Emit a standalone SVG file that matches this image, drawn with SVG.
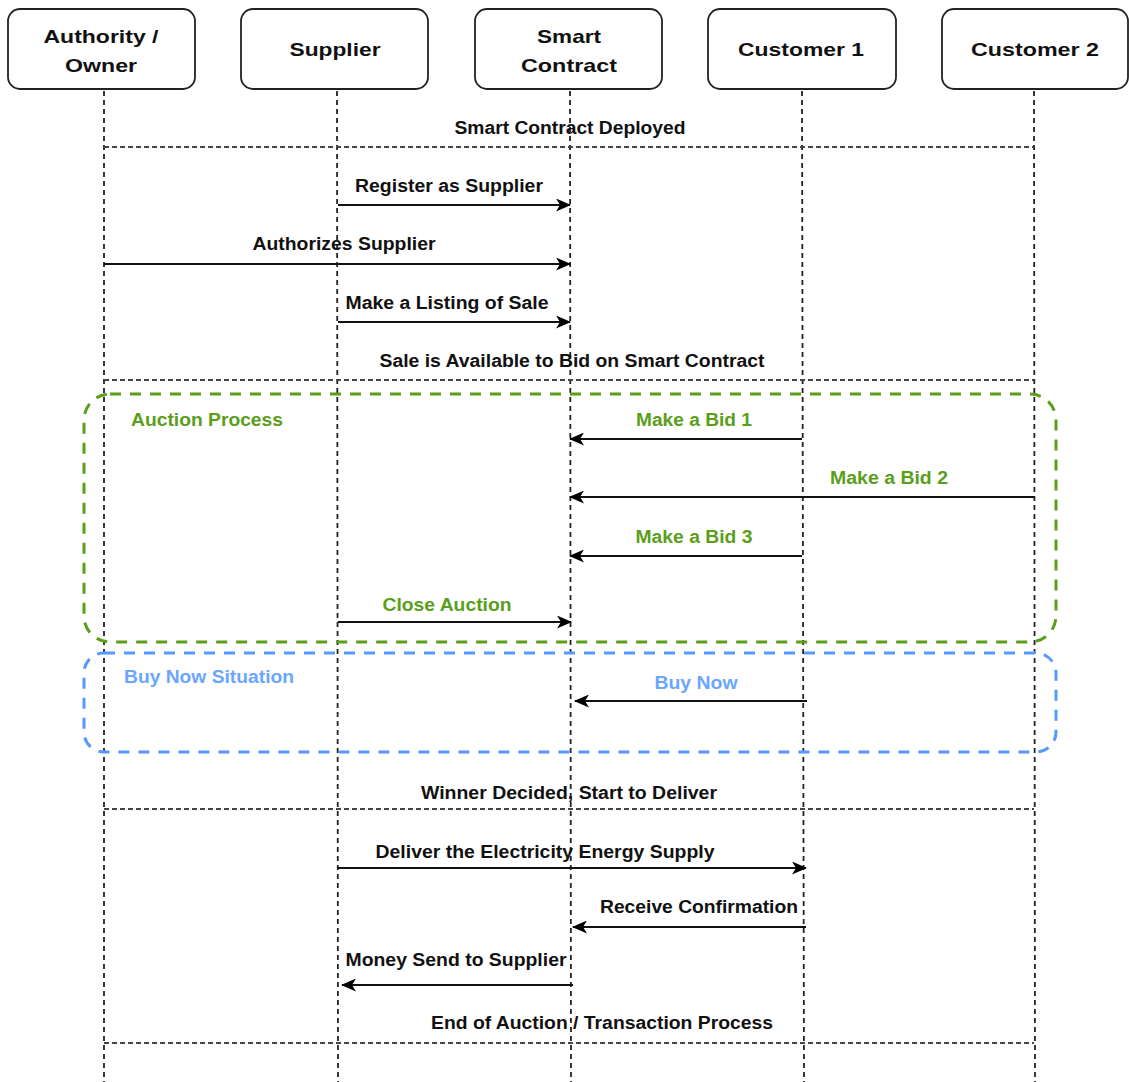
<svg xmlns="http://www.w3.org/2000/svg" width="1129" height="1082" viewBox="0 0 1129 1082">
<defs>
<marker id="arr" viewBox="0 0 15 13" refX="14" refY="6.5" markerWidth="15" markerHeight="13" markerUnits="userSpaceOnUse" orient="auto">
<path d="M0,0 L15,6.5 L0,13 L4,6.5 z" fill="#000"/>
</marker>
<style>
.box{fill:#fff;stroke:#222;stroke-width:1.8}
.nt{font-family:"Liberation Sans",Arial,sans-serif;font-weight:bold;font-size:19px;fill:#111;text-anchor:middle}
.life{stroke:#222;stroke-width:1.8;stroke-dasharray:5,4;fill:none}
.sep{stroke:#444;stroke-width:1.8;stroke-dasharray:5,3;fill:none}
.msg{stroke:#111;stroke-width:2;fill:none;marker-end:url(#arr)}
.t{font-family:"Liberation Sans",Arial,sans-serif;font-weight:bold;font-size:18px;fill:#111;text-anchor:middle}
.g{fill:#5a9e1a}
.b{fill:#6aa6ff}
.start{text-anchor:start}
.grp{fill:none;stroke-width:3;stroke-dasharray:11,9}
</style>
</defs>

<g id="lifelines">
<line class="life" x1="104" y1="91" x2="104" y2="1082"/>
<line class="life" x1="337" y1="91" x2="338" y2="1082"/>
<line class="life" x1="570" y1="91" x2="571" y2="1082"/>
<line class="life" x1="802" y1="91" x2="804" y2="1082"/>
<line class="life" x1="1034" y1="91" x2="1035" y2="1082"/>
</g>

<g id="node-authority">
<rect class="box" x="8" y="9" width="187" height="80" rx="12"/>
<text class="nt" x="101" y="43" textLength="115" lengthAdjust="spacingAndGlyphs">Authority /</text>
<text class="nt" x="101" y="72" textLength="72" lengthAdjust="spacingAndGlyphs">Owner</text>
</g>
<g id="node-supplier">
<rect class="box" x="241" y="9" width="187" height="80" rx="12"/>
<text class="nt" x="335" y="56" textLength="91" lengthAdjust="spacingAndGlyphs">Supplier</text>
</g>
<g id="node-smart-contract">
<rect class="box" x="475" y="9" width="187" height="80" rx="12"/>
<text class="nt" x="569" y="43" textLength="64" lengthAdjust="spacingAndGlyphs">Smart</text>
<text class="nt" x="569" y="72" textLength="96" lengthAdjust="spacingAndGlyphs">Contract</text>
</g>
<g id="node-customer1">
<rect class="box" x="708" y="9" width="188" height="80" rx="12"/>
<text class="nt" x="801" y="56" textLength="126" lengthAdjust="spacingAndGlyphs">Customer 1</text>
</g>
<g id="node-customer2">
<rect class="box" x="942" y="9" width="186" height="80" rx="12"/>
<text class="nt" x="1035" y="56" textLength="128" lengthAdjust="spacingAndGlyphs">Customer 2</text>
</g>

<g id="group-auction">
<rect class="grp" x="84" y="394" width="972" height="248" rx="26" stroke="#5a9e1a"/>
<text class="t g start" x="131" y="426" textLength="152" lengthAdjust="spacingAndGlyphs">Auction Process</text>
</g>
<g id="group-buynow">
<rect class="grp" x="84" y="653" width="972" height="99" rx="20" stroke="#5599ff"/>
<text class="t b start" x="124" y="683" textLength="170" lengthAdjust="spacingAndGlyphs">Buy Now Situation</text>
</g>

<g id="connectors">
<path class="sep" d="M104,147 H1034"/>
<text class="t" x="570" y="134" textLength="231" lengthAdjust="spacingAndGlyphs">Smart Contract Deployed</text>

<path class="msg" d="M338,205 H570"/>
<text class="t" x="449" y="192" textLength="188" lengthAdjust="spacingAndGlyphs">Register as Supplier</text>

<path class="msg" d="M104,264 H570"/>
<text class="t" x="344" y="250" textLength="183" lengthAdjust="spacingAndGlyphs">Authorizes Supplier</text>

<path class="msg" d="M338,322 H570"/>
<text class="t" x="447" y="309" textLength="203" lengthAdjust="spacingAndGlyphs">Make a Listing of Sale</text>

<path class="sep" d="M104,380 H1034"/>
<text class="t" x="572" y="367" textLength="385" lengthAdjust="spacingAndGlyphs">Sale is Available to Bid on Smart Contract</text>

<path class="msg" d="M802,439 H570"/>
<text class="t g" x="694" y="426" textLength="116" lengthAdjust="spacingAndGlyphs">Make a Bid 1</text>

<path class="msg" d="M1034,497 H570"/>
<text class="t g" x="889" y="484" textLength="118" lengthAdjust="spacingAndGlyphs">Make a Bid 2</text>

<path class="msg" d="M802,556 H570"/>
<text class="t g" x="694" y="543" textLength="117" lengthAdjust="spacingAndGlyphs">Make a Bid 3</text>

<path class="msg" d="M338,622 H571"/>
<text class="t g" x="447" y="611" textLength="129" lengthAdjust="spacingAndGlyphs">Close Auction</text>

<path class="msg" d="M807,701 H575"/>
<text class="t b" x="696" y="689" textLength="83" lengthAdjust="spacingAndGlyphs">Buy Now</text>

<path class="sep" d="M104,809 H1034"/>
<text class="t" x="569" y="799" textLength="296" lengthAdjust="spacingAndGlyphs">Winner Decided, Start to Deliver</text>

<path class="msg" d="M338,868 H806"/>
<text class="t" x="545" y="858" textLength="339" lengthAdjust="spacingAndGlyphs">Deliver the Electricity Energy Supply</text>

<path class="msg" d="M806,927 H573"/>
<text class="t" x="699" y="913" textLength="198" lengthAdjust="spacingAndGlyphs">Receive Confirmation</text>

<path class="msg" d="M573,985 H342"/>
<text class="t" x="456" y="966" textLength="221" lengthAdjust="spacingAndGlyphs">Money Send to Supplier</text>

<path class="sep" d="M104,1043 H1034"/>
<text class="t" x="602" y="1029" textLength="342" lengthAdjust="spacingAndGlyphs">End of Auction / Transaction Process</text>
</g>
</svg>
